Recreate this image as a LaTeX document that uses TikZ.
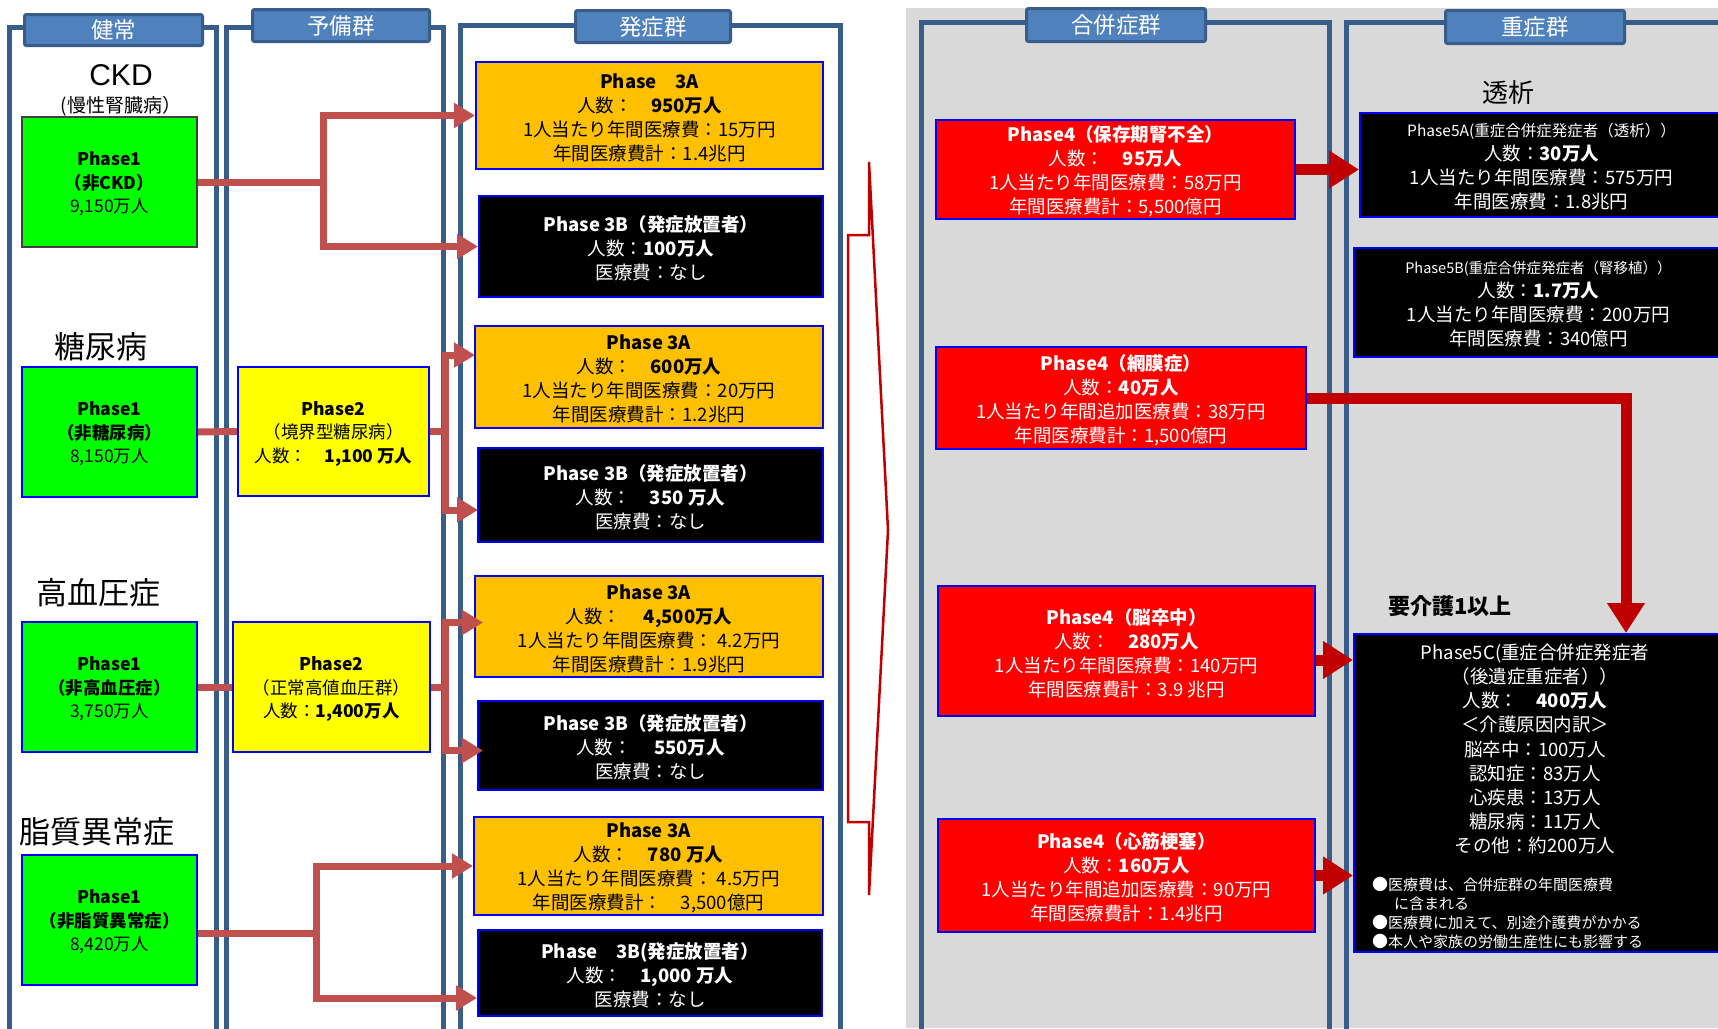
\documentclass[tikz,border=0pt]{standalone}
\usepackage{fontspec}
\setmainfont{Noto Sans CJK JP}
\newfontfamily\latinfont{Liberation Sans}
\usetikzlibrary{arrows.meta,calc}
\definecolor{framec}{HTML}{385D8A}
\definecolor{hdrc}{HTML}{4F81BD}
\definecolor{connc}{HTML}{C0504D}
\definecolor{darkredc}{HTML}{C00000}
\definecolor{orangec}{HTML}{FFC000}
\definecolor{greyc}{HTML}{D9D9D9}
\definecolor{greenc}{HTML}{00FF00}
\definecolor{yellowc}{HTML}{FFFF00}
\definecolor{redc}{HTML}{FF0000}
\definecolor{bluec}{HTML}{0000FF}
\tikzset{
  colframe/.style={draw=framec, line width=5pt},
  hdrbox/.style={draw=framec, fill=hdrc, line width=3pt, rounded corners=2pt, text=white, inner sep=0pt, font=\fontsize{22.5}{24}\selectfont},
  card/.style={draw=bluec, line width=1.8pt, inner sep=0pt, align=center, font=\fontsize{18.5}{24}\selectfont},
  greencard/.style={fill=greenc, font=\fontsize{17.5}{23.5}\selectfont},
  yellowcard/.style={fill=yellowc, font=\fontsize{17.5}{23.5}\selectfont},
  orangecard/.style={fill=orangec},
  blackcard/.style={fill=black, text=white},
  redcard/.style={fill=redc, text=white},
  heading/.style={inner sep=0pt, font=\fontsize{31}{33}\selectfont},
  connline/.style={draw=connc, line width=7pt, line join=miter},
  connarrow/.style={connline, -{Triangle[length=21pt,width=24pt]}},
  bigarrow/.style={draw=darkredc, line width=11pt, line join=miter, -{Triangle[length=30pt,width=36pt]}}
}
\newcommand\cardnode[7]{%
  \node[card,#6,minimum width={#4-#2-1.8},minimum height={#5-#3-1.8}] (#1) at ({(#2+#4)/2},{(#3+#5)/2}) {};
  \node[card,#6,draw=none,fill=none] (#1t) at ($(#1.center)+(0,2)$) {#7};}
\newcommand\hdrnode[6]{\node[hdrbox,minimum width={#4-#2-3},minimum height={#5-#3-3}] (#1) at ({(#2+#4)/2},{(#3+#5)/2}) {#6};}
\newcommand\bul{{\fontsize{16}{19}\selectfont ●}}
\begin{document}
\begin{tikzpicture}[x=1pt,y=-1pt]
\useasboundingbox (0,0) rectangle (1718,1028);
\fill[white] (0,0) rectangle (1718,1028);
\fill[greyc] (906,8) rectangle (1718,1028);
% column frames
\draw[colframe] (9,1030) -- (9,27) -- (216,27) -- (216,1030);
\draw[colframe] (226,1030) -- (226,27) -- (443,27) -- (443,1030);
\draw[colframe] (460,1030) -- (460,25) -- (840,25) -- (840,1030);
\draw[colframe] (921,1030) -- (921,22) -- (1329,22) -- (1329,1030);
\draw[colframe] (1346,1030) -- (1346,22) -- (1722,22);
% headers
\hdrnode{h1}{23}{13}{204}{47}{健常}
\hdrnode{h2}{251}{8}{431}{43}{予備群}
\hdrnode{h3}{574}{9}{732}{44}{発症群}
\hdrnode{h4}{1025}{7}{1207}{43}{合併症群}
\hdrnode{h5}{1444}{9}{1626}{45}{重症群}
% headings
\node[inner sep=0pt, font=\latinfont\fontsize{30}{32}\selectfont] (ckdlbl) at (121,75) {CKD};
\node[inner sep=0pt, font=\fontsize{19}{21}\selectfont] (ckdsub) at (121,106) {(慢性腎臓病）};
\node[heading] (dmlbl) at (101,347) {糖尿病};
\node[heading] (htlbl) at (98,593) {高血圧症};
\node[heading] (liplbl) at (97,832) {脂質異常症};
\node[inner sep=0pt, font=\fontsize{26}{28}\selectfont] (dialbl) at (1508,93) {透析};
\node[inner sep=0pt, font=\bfseries\fontsize{22}{24}\selectfont] (carelbl) at (1450,606) {要介護1以上};
% phase 1
\cardnode{p1ckd}{21}{116}{198}{248}{greencard,draw=black!75}{\textbf{Phase1}\\\textbf{（非CKD）}\\9,150万人}
\cardnode{p1dm}{21}{366}{198}{498}{greencard}{\textbf{Phase1}\\\textbf{（非糖尿病）}\\8,150万人}
\cardnode{p1ht}{21}{621}{198}{753}{greencard}{\textbf{Phase1}\\\textbf{（非高血圧症）}\\3,750万人}
\cardnode{p1lip}{21}{854}{198}{986}{greencard}{\textbf{Phase1}\\\textbf{（非脂質異常症）}\\8,420万人}
% phase 2
\cardnode{p2dm}{237}{366}{430}{497}{yellowcard}{\textbf{Phase2}\\（境界型糖尿病）\\人数：　\textbf{1,100 万人}}
\cardnode{p2ht}{232}{621}{431}{753}{yellowcard}{\textbf{Phase2}\\（正常高値血圧群）\\人数：\textbf{1,400万人}}
% phase 3
\cardnode{p3a1}{475}{61}{824}{170}{orangecard}{\textbf{Phase　3A}\\人数：　\textbf{950万人}\\1人当たり年間医療費：15万円\\年間医療費計：1.4兆円}
\cardnode{p3b1}{478}{195}{824}{298}{blackcard}{\textbf{Phase 3B（発症放置者）}\\人数：\textbf{100万人}\\医療費：なし}
\cardnode{p3a2}{474}{325}{824}{429}{orangecard}{\textbf{Phase 3A}\\人数：　\textbf{600万人}\\1人当たり年間医療費：20万円\\年間医療費計：1.2兆円}
\cardnode{p3b2}{477}{447}{824}{543}{blackcard}{\textbf{Phase 3B（発症放置者）}\\人数：　\textbf{350 万人}\\医療費：なし}
\cardnode{p3a3}{474}{575}{824}{678}{orangecard}{\textbf{Phase 3A}\\人数：　 \textbf{4,500万人}\\1人当たり年間医療費： 4.2万円\\年間医療費計：1.9兆円}
\cardnode{p3b3}{477}{700}{824}{791}{blackcard}{\textbf{Phase 3B（発症放置者）}\\人数：　 \textbf{550万人}\\医療費：なし}
\cardnode{p3a4}{473}{816}{824}{916}{orangecard}{\textbf{Phase 3A}\\人数：　\textbf{780 万人}\\1人当たり年間医療費： 4.5万円\\年間医療費計：　3,500億円}
\cardnode{p3b4}{477}{929}{823}{1017}{blackcard}{\textbf{Phase　3B(発症放置者）}\\人数：　\textbf{1,000 万人}\\医療費：なし}
% phase 4
\cardnode{p4ckd}{935}{119}{1296}{220}{redcard}{\textbf{Phase4（保存期腎不全）}\\人数：　\textbf{95万人}\\1人当たり年間医療費：58万円\\年間医療費計：5,500億円}
\cardnode{p4ret}{935}{346}{1307}{450}{redcard}{\textbf{Phase4（網膜症）}\\人数：\textbf{40万人}\\1人当たり年間追加医療費：38万円\\年間医療費計：1,500億円}
\cardnode{p4str}{937}{585}{1316}{717}{redcard}{\textbf{Phase4（脳卒中）}\\人数：　\textbf{280万人}\\1人当たり年間医療費：140万円\\年間医療費計：3.9 兆円}
\cardnode{p4mi}{937}{818}{1316}{933}{redcard}{\textbf{Phase4（心筋梗塞）}\\人数：\textbf{160万人}\\1人当たり年間追加医療費：90万円\\年間医療費計：1.4兆円}
% phase 5
\cardnode{p5a}{1359}{112}{1724}{218}{blackcard}{{\fontsize{15.5}{23}\selectfont Phase5A(重症合併症発症者（透析））}\\人数：\textbf{30万人}\\1人当たり年間医療費：575万円\\年間医療費：1.8兆円}
\cardnode{p5b}{1353}{247}{1724}{358}{blackcard}{{\fontsize{14.5}{23}\selectfont Phase5B(重症合併症発症者（腎移植））}\\人数：\textbf{1.7万人}\\1人当たり年間医療費：200万円\\年間医療費：340億円}
\node[card,blackcard,minimum width={1724-1353-1.8},minimum height={953-633-1.8}] (p5c) at ({(1353+1724)/2},{(633+953)/2}) {};
\node[inner sep=0pt, align=center, text=white, font=\fontsize{18.5}{24.1}\selectfont] (p5ctxt) at (1535,749) {Phase5C(重症合併症発症者\\（後遺症重症者））\\人数：　\textbf{400万人}\\＜介護原因内訳＞\\脳卒中：100万人\\認知症：83万人\\心疾患：13万人\\糖尿病：11万人\\その他：約200万人};
\node[inner sep=0pt, align=left, anchor=west, text=white, font=\fontsize{15}{19}\selectfont] (p5cnote) at (1372,913) {\bul 医療費は、合併症群の年間医療費\\\hspace*{22pt}に含まれる\\\bul 医療費に加えて、別途介護費がかかる\\\bul 本人や家族の労働生産性にも影響する};
% left connectors
\coordinate (jckd) at ($(p1ckd.east)+(125,0)$);
\draw[connline] (p1ckd.east) -- (jckd);
\draw[connarrow] (jckd) |- (p3a1.west);
\draw[connarrow] (jckd) |- (p3b1.west);
\draw[connline] (p1dm.east) -- (p2dm.west);
\coordinate (jdm) at ($(p2dm.east)+(15,0)$);
\draw[connline] (p2dm.east) -- (jdm);
\draw[connarrow] (jdm) |- ($(p3a2.north west)+(1,30)$);
\draw[connarrow] (jdm) |- ($(p3b2.south west)+(1,-33)$);
\draw[connline] (p1ht.east) -- (p2ht.west);
\coordinate (jht) at ($(p2ht.east)+(14,0)$);
\draw[connline] (p2ht.east) -- (jht);
\draw[connarrow] (jht) |- ($(p3a3.west)+(9,-4)$);
\draw[connarrow] (jht) |- ($(p3b3.west)+(6,5)$);
\coordinate (slip) at ($(p1lip.east)+(0,13)$);
\coordinate (jlip) at ($(slip)+(118,0)$);
\draw[connline] (slip) -- (jlip);
\draw[connarrow] (jlip) |- (p3a4.west);
\draw[connarrow] (jlip) |- ($(p3b4.west)+(0,25)$);
% bracket
\draw[darkredc, line width=2.5pt, line join=miter] (869,162) -- (888,530) -- (869,895) -- (869,822) -- (848,822) -- (848,235) -- (869,235) -- cycle;
% right connectors
\draw[bigarrow] (p4ckd.east) -- (p4ckd.east -| p5a.west);
\draw[bigarrow] (p4ret.east) -| ($(p5c.north west)+(273,0)$);
\coordinate (sstr) at ($(p4str.east)+(0,9)$);
\draw[bigarrow] (sstr) -- (sstr -| p5c.west);
\draw[bigarrow] (p4mi.east) -- (p4mi.east -| p5c.west);
\end{tikzpicture}
\end{document}
